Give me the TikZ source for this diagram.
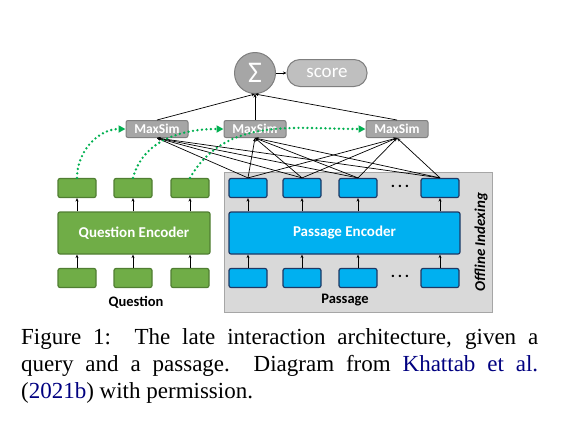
\documentclass[tikz,border=0pt]{standalone}
\usepackage{fontspec}
\setmainfont{Liberation Serif}
\newfontfamily\diagfont{Carlito}
\definecolor{TokGreen}{HTML}{70AD47}
\definecolor{TokGreenDark}{HTML}{507E32}
\definecolor{TokBlue}{HTML}{00B0F0}
\definecolor{TokBlueDark}{HTML}{1F3864}
\definecolor{SimGray}{HTML}{A6A6A6}
\definecolor{SimGrayDark}{HTML}{7F7F7F}
\definecolor{ScoreGray}{HTML}{BFBFBF}
\definecolor{IndexGray}{HTML}{D9D9D9}
\definecolor{DotGreen}{HTML}{00B050}
\definecolor{CiteBlue}{HTML}{000080}
\usetikzlibrary{arrows.meta,positioning,shapes.geometric,calc}

\begin{document}
\begin{tikzpicture}[x=1pt,y=-1pt,font=\diagfont,
    qtok/.style={draw=TokGreenDark,fill=TokGreen,line width=1.2pt,rounded corners=2pt,minimum width=38pt,minimum height=19pt,inner sep=0pt},
    ptok/.style={draw=TokBlueDark,fill=TokBlue,line width=1.2pt,rounded corners=2pt,minimum width=38pt,minimum height=19pt,inner sep=0pt},
    maxsim/.style={draw=SimGrayDark,fill=SimGray,line width=1pt,rounded corners=2pt,minimum width=62pt,minimum height=17pt,inner sep=0pt,text=white,font=\diagfont\fontsize{13.5}{14}\selectfont\bfseries},
    encoder/.style={line width=1.2pt,rounded corners=2pt,minimum height=42pt,inner sep=0pt,text=white,font=\diagfont\fontsize{15}{17}\selectfont\bfseries},
    label/.style={font=\diagfont\fontsize{14.5}{16}\selectfont\bfseries},
    dots/.style={font=\diagfont\fontsize{16}{16}\selectfont\bfseries},
    tiny/.style={-{Stealth[length=3.5pt,width=3pt]},line width=0.7pt},
    dotarrow/.style={-{Triangle[length=7pt,width=7pt]},DotGreen,line width=2.6pt,dash pattern=on 0pt off 4.5pt,line cap=round}]
  \useasboundingbox (0,0) rectangle (568,424);
  % offline indexing panel
  \node[draw=SimGray,fill=IndexGray,line width=1pt,minimum width=268pt,minimum height=140pt,inner sep=0pt] (panel) at (358,242) {};
  \node[rotate=90,font=\diagfont\fontsize{15}{16}\selectfont\bfseries\itshape] (offline) at (481,242) {Offline Indexing};
  % score
  \node[circle,draw=SimGrayDark,fill=SimGray,line width=1pt,minimum size=41pt,inner sep=0pt,text=white,font=\diagfont\fontsize{30}{30}\selectfont] (sum) at (255,73) {Σ};
  \node[draw=SimGrayDark,fill=ScoreGray,line width=1pt,rounded corners=13pt,minimum width=80pt,minimum height=27pt,inner sep=0pt,text=white,font=\diagfont\fontsize{19}{20}\selectfont] (score) at (327,73) {score};
  % maxsim
  \node[maxsim] (m1) at (157,129) {MaxSim};
  \node[maxsim] (m2) at (255,129) {MaxSim};
  \node[maxsim] (m3) at (397,129) {MaxSim};
  % question side
  \node[encoder,draw=TokGreenDark,fill=TokGreen,minimum width=152pt] (qenc) at (134,233) {Question Encoder};
  \node[qtok] (q1) at (77,188) {};
  \node[qtok] (q2) at (133,188) {};
  \node[qtok] (q3) at (190,188) {};
  \node[qtok] (qi1) at (77,278) {};
  \node[qtok] (qi2) at (133,278) {};
  \node[qtok] (qi3) at (190,278) {};
  \node[label] (qlab) at (136,302) {Question};
  % passage side
  \node[encoder,draw=TokBlueDark,fill=TokBlue,minimum width=231pt] (penc) at (344.5,233) {Passage Encoder};
  \node[ptok] (p1) at (248,188) {};
  \node[ptok] (p2) at (302,188) {};
  \node[ptok] (p3) at (358,188) {};
  \node[ptok] (p4) at (440,188) {};
  \node[ptok] (pi1) at (248,278) {};
  \node[ptok] (pi2) at (302,278) {};
  \node[ptok] (pi3) at (358,278) {};
  \node[ptok] (pi4) at (440,278) {};
  \node[dots] (pdots) at (400,186) {.\,.\,.};
  \node[dots] (pidots) at (400,276) {.\,.\,.};
  \node[label] (plab) at (345,300) {Passage};
  % arrows
  \foreach \x in {1,2,3}{\draw[tiny] (qi\x.north) -- (qi\x.north|-qenc.south);
    \draw[tiny] (q\x.south|-qenc.north) -- (q\x.south);
    \draw[tiny] (m\x.north) -- (sum.south);}
  \foreach \x in {1,2,3,4}{\draw[tiny] (pi\x.north) -- (pi\x.north|-penc.south);
    \draw[tiny] (p\x.south|-penc.north) -- (p\x.south);}
  \foreach \x/\y in {p1/m1,p2/m1,p3/m1,p4/m1,p1/m2,p2/m2,p3/m2,p4/m2,p1/m3,p2/m3,p3/m3,p4/m3}{\draw[tiny] (\x.north) -- (\y.south);}
  \draw[tiny] (sum) -- (score);
  \draw[dotarrow] (q1.north) to[out=90,in=180] (m1.west);
  \draw[dotarrow] (q2.north) to[out=75,in=180] (m2.west);
  \draw[dotarrow] (q3.north) to[out=60,in=180] (m3.west);
  % caption
  \node[anchor=north west,inner sep=0pt,text width=517pt,align=justify,font=\rmfamily\fontsize{23}{27}\selectfont] (caption) at (21,328) {Figure 1:\ \ The late interaction architecture, given a\linebreak query and a passage.\ \ Diagram from \textcolor{CiteBlue}{Khattab et al.}\linebreak (\textcolor{CiteBlue}{2021b}) with permission.};
\end{tikzpicture}
\end{document}
